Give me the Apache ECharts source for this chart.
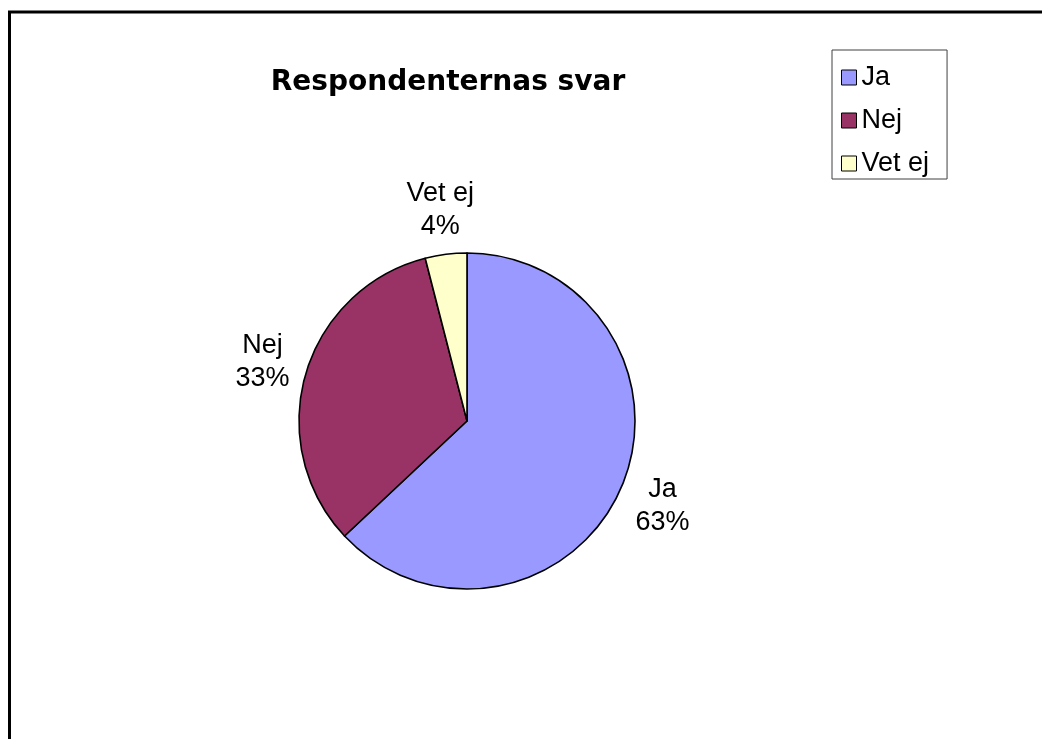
<!DOCTYPE html>
<html>
<head>
<meta charset="utf-8">
<script src="https://cdn.jsdelivr.net/npm/echarts@6/dist/echarts.min.js"></script>
<style>
  html, body { margin: 0; padding: 0; background: #fff; }
  #chart { width: 1042px; height: 739px; }
</style>
</head>
<body>
<div id="chart"></div>
<script>
// svar i procent
const categories = ['Ja', 'Nej', 'Vet ej'];
const values = [63, 33, 4];
const chartTitle = 'Respondenternas svar';

let myChart = echarts.init(document.getElementById('chart'));
let option = {
  backgroundColor: '#ffffff',
  animation: false,
  color: ['#9999ff', '#993366', '#ffffcc'],
  title: {
    text: chartTitle,
    left: 448,
    top: 69,
    textAlign: 'center',
    padding: 0,
    textStyle: {
      fontFamily: 'DejaVu Sans',
      fontWeight: 'bold',
      fontSize: 28,
      color: '#000'
    }
  },
  // ram runt diagrammet
  graphic: [{
    type: 'rect',
    shape: { x: 9.5, y: 12, width: 1100, height: 800 },
    style: { fill: 'none', stroke: '#000', lineWidth: 3 },
    silent: true
  }],
  legend: {
    orient: 'vertical',
    left: 832,
    top: 50,
    padding: [14, 18, 2, 9],
    borderColor: '#404040',
    borderWidth: 1,
    itemWidth: 15,
    itemHeight: 15,
    itemGap: 16,
    itemTextGap: 11,
    icon: 'rect',
    itemStyle: { borderColor: '#000', borderWidth: 1 },
    textStyle: {
      fontFamily: 'Liberation Sans',
      fontSize: 27,
      lineHeight: 27,
      color: '#000'
    },
    data: categories
  },
  series: [{
    name: 'Svar',
    type: 'pie',
    center: [467, 421],
    radius: 168,
    startAngle: 90,
    clockwise: true,
    avoidLabelOverlap: false,
    itemStyle: { borderColor: '#000', borderWidth: 1.6 },
    label: {
      show: true,
      position: 'outside',
      distanceToLabelLine: 0,
      fontFamily: 'Liberation Sans',
      fontSize: 27,
      lineHeight: 33,
      color: '#000',
      formatter: function (p) {
        return p.name + '\n' + Math.round(p.percent) + '%';
      }
    },
    labelLine: { show: false, length: 45, length2: 0 },
    labelLayout: function () {
      return { align: 'center' };
    },
    emphasis: { disabled: true },
    data: categories.map(function (c, i) {
      return { name: c, value: values[i] };
    })
  }]
};
myChart.setOption(option);
</script>
</body>
</html>
